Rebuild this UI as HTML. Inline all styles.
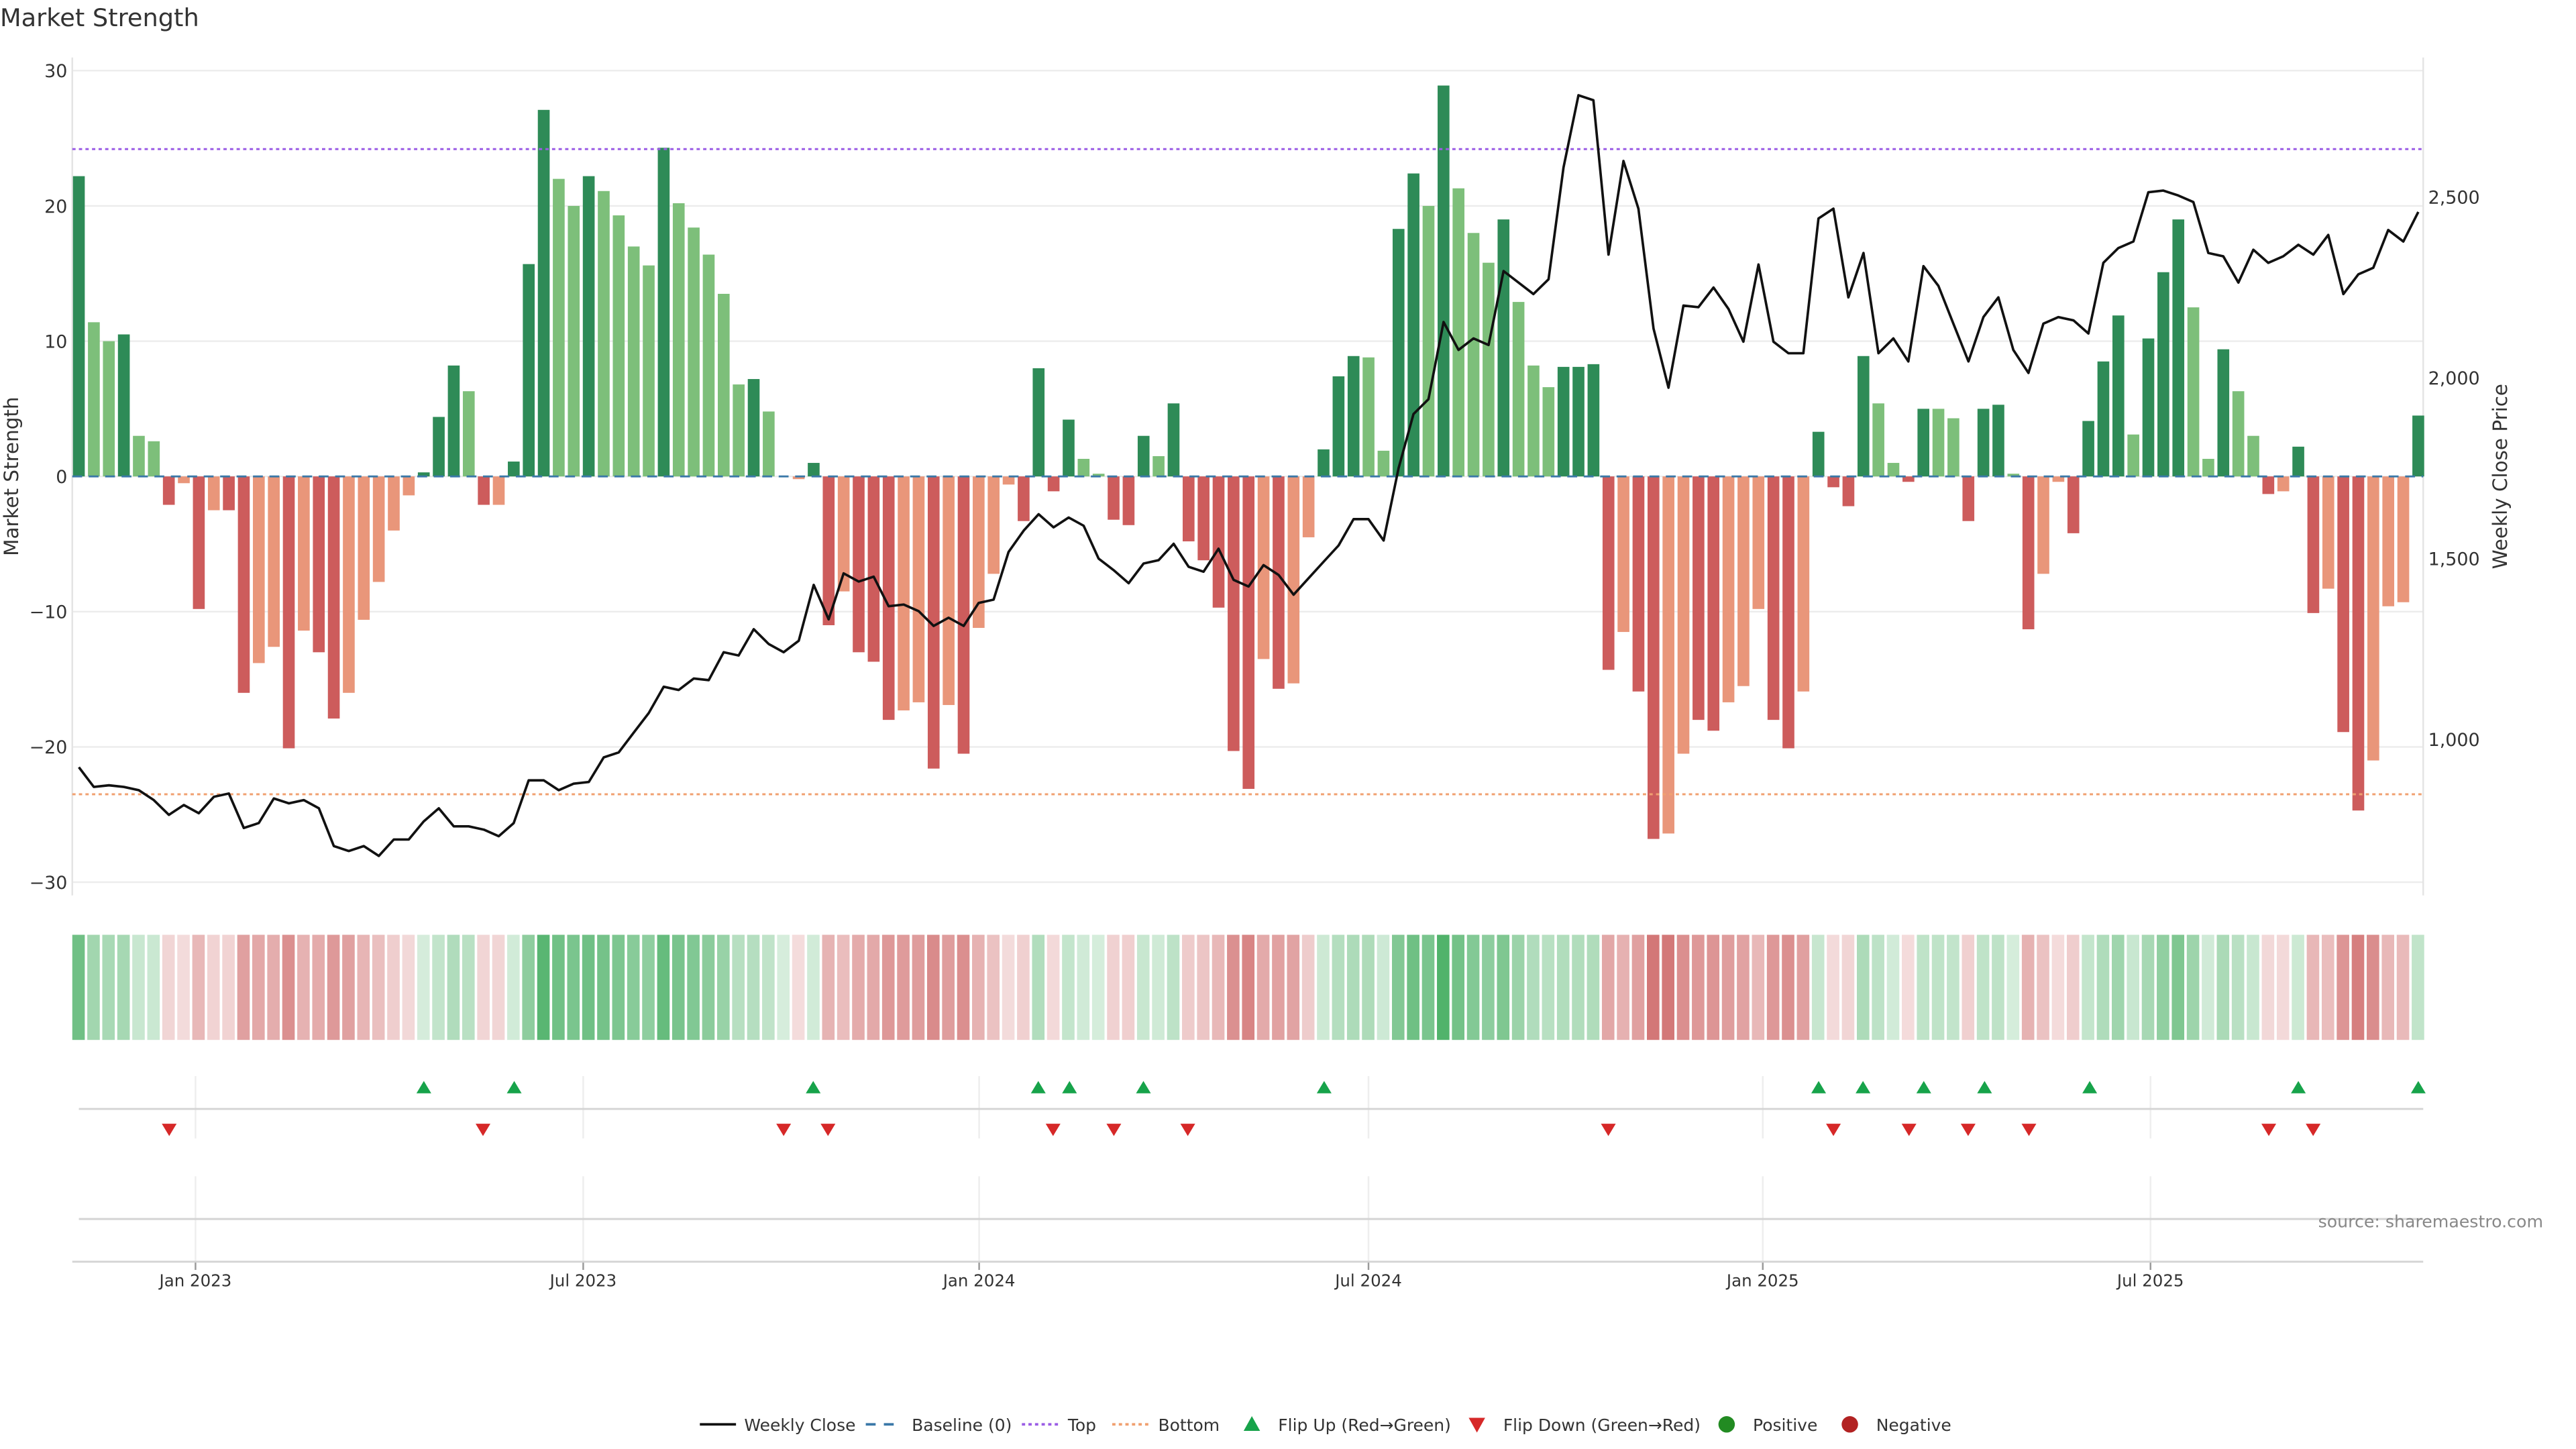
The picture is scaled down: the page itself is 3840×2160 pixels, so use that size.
<!DOCTYPE html>
<html><head><meta charset="utf-8"><style>
html,body{margin:0;padding:0;background:#fff;}
svg{display:block;}
text{font-family:"DejaVu Sans","Liberation Sans",sans-serif;fill:#333;}
</style></head><body>
<svg id="s" width="3840" height="2160" viewBox="0 0 1568 882" xmlns="http://www.w3.org/2000/svg"></svg>
<script>
const vals=[22.2,11.4,10,10.5,3,2.6,-2.1,-0.5,-9.8,-2.5,-2.5,-16,-13.8,-12.6,-20.1,-11.4,-13,-17.9,-16,-10.6,-7.8,-4,-1.4,0.3,4.4,8.2,6.3,-2.1,-2.1,1.1,15.7,27.1,22,20,22.2,21.1,19.3,17,15.6,24.3,20.2,18.4,16.4,13.5,6.8,7.2,4.8,0,-0.2,1,-11,-8.5,-13,-13.7,-18,-17.3,-16.7,-21.6,-16.9,-20.5,-11.2,-7.2,-0.6,-3.3,8,-1.1,4.2,1.3,0.2,-3.2,-3.6,3,1.5,5.4,-4.8,-6.2,-9.7,-20.3,-23.1,-13.5,-15.7,-15.3,-4.5,2,7.4,8.9,8.8,1.9,18.3,22.4,20,28.9,21.3,18,15.8,19,12.9,8.2,6.6,8.1,8.1,8.3,-14.3,-11.5,-15.9,-26.8,-26.4,-20.5,-18,-18.8,-16.7,-15.5,-9.8,-18,-20.1,-15.9,3.3,-0.8,-2.2,8.9,5.4,1,-0.4,5,5,4.3,-3.3,5,5.3,0.2,-11.3,-7.2,-0.4,-4.2,4.1,8.5,11.9,3.1,10.2,15.1,19,12.5,1.3,9.4,6.3,3,-1.3,-1.1,2.2,-10.1,-8.3,-18.9,-24.7,-21,-9.6,-9.3,4.5];
const dl="DLLDLLDLDL"+"DDLLDLDDLL"+"LLLDDDLDLD"+"DDLLDLLLLD"+"LLLLLDLLLD"+"DLDDDLLDLD"+"LLLDDDDLLD"+"DDLDDDDDDL"+"DLLDDDLLDD"+"LDLLLDLLLD"+"DDDLDDLLDD"+"LLLDDLDDDD"+"LLDDLLDDDL"+"DLLDDDDLDD"+"DLLDLLDLDD"+"LDDLLLD";
const py=[467,479,478,479,481,487,496,490,495,485,483,504,501,486,489,487,492,515,518,515,521,511,511,500,492,503,503,505,509,501,475,475,481,477,476,461,458,446,434,418,420,413,414,397,399,383,392,397,390,356,377,349,354,351,369,368,372,381,376,381,367,365,336,323,313,321,315,320,340,347,355,343,341,331,345,348,334,353,357,344,350,362,352,342,332,316,316,329,285,252,243,196,213,206,210,165,172,179,170,102,58,61,155,98,127,200,236,186,187,175,188,208,161,208,215,215,133,127,181,154,215,206,220,162,174,197,220,193,181,213,227,197,193,195,203,160,151,147,117,116,119,123,154,156,172,152,160,156,149,155,143,179,167,163,140,147,129];
const ups=[258,313,495,632,651,696,806,1107,1134,1171,1208,1272,1399,1472];
const downs=[103,294,477,504,641,678,723,979,1116,1162,1198,1235,1381,1408];
const X=i=>48+i*(1424/156);
const Y=v=>290-v*8.233;
let h='';
h+='<text x="0" y="16" font-size="15">Market Strength</text>';
for(let v=-30;v<=30;v+=10){h+=`<line x1="44" x2="1475" y1="${Y(v)}" y2="${Y(v)}" stroke="#ececec" stroke-width="1"/>`;
h+=`<text x="41" y="${Y(v)+4}" font-size="11" text-anchor="end">${v<0?'−'+(-v):v}</text>`;}
h+='<line x1="44" x2="44" y1="35" y2="545" stroke="#e4e4e4"/>';
h+='<line x1="1475" x2="1475" y1="35" y2="545" stroke="#e4e4e4"/>';
[[120,'2,500'],[230,'2,000'],[340,'1,500'],[450,'1,000']].forEach(a=>h+=`<text x="1478" y="${a[0]+4}" font-size="11">${a[1]}</text>`);
h+='<text transform="translate(11,290) rotate(-90)" font-size="12" text-anchor="middle">Market Strength</text>';
h+='<text transform="translate(1526,290) rotate(-90)" font-size="12" text-anchor="middle">Weekly Close Price</text>';
vals.forEach((v,i)=>{const d=dl[i]==='D';const c=v>=0?(d?'#2e8b57':'#7dbf7a'):(d?'#cd5c5c':'#e9967a');
const y0=Y(Math.max(v,0)),hh=Math.abs(v)*8.233;if(hh>0.1)h+=`<rect x="${X(i)-3.6}" y="${y0}" width="7.2" height="${hh}" fill="${c}"/>`;});
h+='<line x1="44" x2="1475" y1="290" y2="290" stroke="#3a78a8" stroke-width="1.2" stroke-dasharray="6,4"/>';
h+=`<line x1="44" x2="1475" y1="${Y(24.2)}" y2="${Y(24.2)}" stroke="#9b5de5" stroke-width="1.2" stroke-dasharray="2,2"/>`;
h+=`<line x1="44" x2="1475" y1="${Y(-23.5)}" y2="${Y(-23.5)}" stroke="#f0a070" stroke-width="1.2" stroke-dasharray="2,2"/>`;
h+=`<polyline fill="none" stroke="#111" stroke-width="1.5" stroke-linejoin="round" points="${py.map((y,i)=>X(i).toFixed(1)+','+y).join(' ')}"/>`;
const mix=(b,t)=>`rgb(${b.map(c=>Math.round(255+(c-255)*t)).join(',')})`;
vals.forEach((v,i)=>{const t=0.2+0.65*Math.min(Math.abs(v)/29,1);const c=v>=0?mix([50,165,80],t):mix([200,85,85],t);
h+=`<rect x="${X(i)-4}" y="569" width="7.6" height="64" fill="${c}"/>`;});
const ticks=[[119,'Jan 2023'],[355,'Jul 2023'],[596,'Jan 2024'],[833,'Jul 2024'],[1073,'Jan 2025'],[1309,'Jul 2025']];
ticks.forEach(t=>{h+=`<line x1="${t[0]}" x2="${t[0]}" y1="655" y2="693" stroke="#eee"/><line x1="${t[0]}" x2="${t[0]}" y1="716" y2="768" stroke="#eee"/><line x1="${t[0]}" x2="${t[0]}" y1="768" y2="773" stroke="#999"/>`;
h+=`<text x="${t[0]}" y="783" font-size="10" text-anchor="middle">${t[1]}</text>`;});
h+='<line x1="48" x2="1475" y1="675" y2="675" stroke="#d4d4d4" stroke-width="1.2"/>';
h+='<line x1="48" x2="1475" y1="742" y2="742" stroke="#d4d4d4" stroke-width="1.2"/>';
h+='<line x1="44" x2="1475" y1="768" y2="768" stroke="#d4d4d4" stroke-width="1.2"/>';
ups.forEach(x=>h+=`<polygon points="${x-4.5},665.5 ${x+4.5},665.5 ${x},658" fill="#17a34a"/>`);
downs.forEach(x=>h+=`<polygon points="${x-4.5},684 ${x+4.5},684 ${x},691.5" fill="#d62828"/>`);
h+='<text x="1548" y="747" font-size="10.3" text-anchor="end" style="fill:#888">source: sharemaestro.com</text>';
const ly=867,fs=10.2;
h+=`<line x1="426" x2="448" y1="${ly}" y2="${ly}" stroke="#111" stroke-width="1.5"/><text x="453" y="${ly+4}" font-size="${fs}">Weekly Close</text>`;
h+=`<line x1="527" x2="549" y1="${ly}" y2="${ly}" stroke="#3a78a8" stroke-width="1.5" stroke-dasharray="6,5"/><text x="555" y="${ly+4}" font-size="${fs}">Baseline (0)</text>`;
h+=`<line x1="622" x2="644" y1="${ly}" y2="${ly}" stroke="#9b5de5" stroke-width="1.5" stroke-dasharray="2,2"/><text x="650" y="${ly+4}" font-size="${fs}">Top</text>`;
h+=`<line x1="677" x2="699" y1="${ly}" y2="${ly}" stroke="#f0a070" stroke-width="1.5" stroke-dasharray="2,2"/><text x="705" y="${ly+4}" font-size="${fs}">Bottom</text>`;
h+=`<polygon points="757,${ly+4} 767,${ly+4} 762,${ly-5}" fill="#17a34a"/><text x="778" y="${ly+4}" font-size="${fs}">Flip Up (Red→Green)</text>`;
h+=`<polygon points="894,${ly-4} 904,${ly-4} 899,${ly+5}" fill="#d62828"/><text x="915" y="${ly+4}" font-size="${fs}">Flip Down (Green→Red)</text>`;
h+=`<circle cx="1051" cy="${ly}" r="5" fill="#228b22"/><text x="1067" y="${ly+4}" font-size="${fs}">Positive</text>`;
h+=`<circle cx="1126" cy="${ly}" r="5" fill="#b22222"/><text x="1142" y="${ly+4}" font-size="${fs}">Negative</text>`;
document.getElementById('s').innerHTML=h;
</script>
</body></html>
